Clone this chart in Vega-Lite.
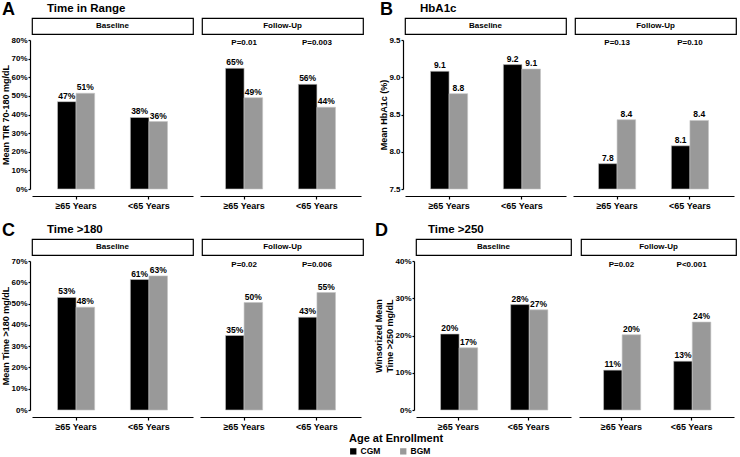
{
"$schema":"https://vega.github.io/schema/vega-lite/v6.json",
"padding":{"left":1,"right":1,"top":0,"bottom":1},
"datasets":{
"bars":[
{"panel":"A","time":"Baseline","age":"≥65 Years","device":"CGM","value":46.9,"label":"47%"},
{"panel":"A","time":"Baseline","age":"≥65 Years","device":"BGM","value":51.4,"label":"51%"},
{"panel":"A","time":"Baseline","age":"<65 Years","device":"CGM","value":38.4,"label":"38%"},
{"panel":"A","time":"Baseline","age":"<65 Years","device":"BGM","value":36.2,"label":"36%"},
{"panel":"A","time":"Follow-Up","age":"≥65 Years","device":"CGM","value":64.8,"label":"65%"},
{"panel":"A","time":"Follow-Up","age":"≥65 Years","device":"BGM","value":49.0,"label":"49%"},
{"panel":"A","time":"Follow-Up","age":"<65 Years","device":"CGM","value":56.2,"label":"56%"},
{"panel":"A","time":"Follow-Up","age":"<65 Years","device":"BGM","value":43.9,"label":"44%"},
{"panel":"B","time":"Baseline","age":"≥65 Years","device":"CGM","value":9.08,"label":"9.1"},
{"panel":"B","time":"Baseline","age":"≥65 Years","device":"BGM","value":8.78,"label":"8.8"},
{"panel":"B","time":"Baseline","age":"<65 Years","device":"CGM","value":9.17,"label":"9.2"},
{"panel":"B","time":"Baseline","age":"<65 Years","device":"BGM","value":9.11,"label":"9.1"},
{"panel":"B","time":"Follow-Up","age":"≥65 Years","device":"CGM","value":7.84,"label":"7.8"},
{"panel":"B","time":"Follow-Up","age":"≥65 Years","device":"BGM","value":8.43,"label":"8.4"},
{"panel":"B","time":"Follow-Up","age":"<65 Years","device":"CGM","value":8.08,"label":"8.1"},
{"panel":"B","time":"Follow-Up","age":"<65 Years","device":"BGM","value":8.42,"label":"8.4"},
{"panel":"C","time":"Baseline","age":"≥65 Years","device":"CGM","value":52.9,"label":"53%"},
{"panel":"C","time":"Baseline","age":"≥65 Years","device":"BGM","value":48.3,"label":"48%"},
{"panel":"C","time":"Baseline","age":"<65 Years","device":"CGM","value":61.3,"label":"61%"},
{"panel":"C","time":"Baseline","age":"<65 Years","device":"BGM","value":63.0,"label":"63%"},
{"panel":"C","time":"Follow-Up","age":"≥65 Years","device":"CGM","value":35.0,"label":"35%"},
{"panel":"C","time":"Follow-Up","age":"≥65 Years","device":"BGM","value":50.5,"label":"50%"},
{"panel":"C","time":"Follow-Up","age":"<65 Years","device":"CGM","value":43.6,"label":"43%"},
{"panel":"C","time":"Follow-Up","age":"<65 Years","device":"BGM","value":55.2,"label":"55%"},
{"panel":"D","time":"Baseline","age":"≥65 Years","device":"CGM","value":20.4,"label":"20%"},
{"panel":"D","time":"Baseline","age":"≥65 Years","device":"BGM","value":16.7,"label":"17%"},
{"panel":"D","time":"Baseline","age":"<65 Years","device":"CGM","value":28.3,"label":"28%"},
{"panel":"D","time":"Baseline","age":"<65 Years","device":"BGM","value":26.9,"label":"27%"},
{"panel":"D","time":"Follow-Up","age":"≥65 Years","device":"CGM","value":10.7,"label":"11%"},
{"panel":"D","time":"Follow-Up","age":"≥65 Years","device":"BGM","value":20.2,"label":"20%"},
{"panel":"D","time":"Follow-Up","age":"<65 Years","device":"CGM","value":13.1,"label":"13%"},
{"panel":"D","time":"Follow-Up","age":"<65 Years","device":"BGM","value":23.6,"label":"24%"}
],
"pvals":[
{"panel":"A","age":"≥65 Years","y":78.5,"p":"P=0.01"},
{"panel":"A","age":"<65 Years","y":78.5,"p":"P=0.003"},
{"panel":"B","age":"≥65 Years","y":9.46,"p":"P=0.13"},
{"panel":"B","age":"<65 Years","y":9.46,"p":"P=0.10"},
{"panel":"C","age":"≥65 Years","y":68.1,"p":"P=0.02"},
{"panel":"C","age":"<65 Years","y":68.1,"p":"P=0.006"},
{"panel":"D","age":"≥65 Years","y":39.0,"p":"P=0.02"},
{"panel":"D","age":"<65 Years","y":39.0,"p":"P<0.001"}
]
},
"spacing":10,
"vconcat":[
{"spacing":15,"hconcat":[
 {"title":{"text":"A","anchor":"start","fontSize":18,"offset":0,"dy":17},"spacing":1,"vconcat":[
  {"spacing":7,"hconcat":[
   {"width":161,"height":16,"view":{"stroke":"black","strokeWidth":1.2,"fill":"white"},
    "title":{"text":"Time in Range","anchor":"start","dx":15,"fontSize":11.5,"offset":4},
    "data":{"values":[{"s":"Baseline"}]},"mark":{"type":"text","fontSize":8,"fontWeight":"bold","color":"black"},
    "encoding":{"x":{"field":"s","type":"nominal","axis":null},"y":{"field":"s","type":"nominal","axis":null},"text":{"field":"s"}}},
   {"width":161,"height":16,"view":{"stroke":"black","strokeWidth":1.2,"fill":"white"},
    "data":{"values":[{"s":"Follow-Up"}]},"mark":{"type":"text","fontSize":8,"fontWeight":"bold","color":"black"},
    "encoding":{"x":{"field":"s","type":"nominal","axis":null},"y":{"field":"s","type":"nominal","axis":null},"text":{"field":"s"}}}
  ]},
  {"spacing":7,"hconcat":[
   {"width":161,"height":149,"data":{"name":"bars"},"transform":[{"filter":"datum.panel==='A' && datum.time==='Baseline'"}],
    "encoding":{
     "x":{"field":"age","type":"nominal","sort":["≥65 Years","<65 Years"],"scale":{"paddingInner":0.49,"paddingOuter":0.35},"axis":{"title":null,"labelAngle":0,"offset":7,"tickSize":3,"labelPadding":2.5,"labelFontSize":9}},
     "xOffset":{"field":"device","type":"nominal","sort":["CGM","BGM"]},
     "y":{"field":"value","type":"quantitative","scale":{"domain":[0,80],"nice":false,"zero":false},"axis":{"title":"Mean TIR 70-180 mg/dL","values":[0,10,20,30,40,50,60,70,80],"labelExpr":"datum.value + '%'","offset":2,"tickSize":2,"labelPadding":1,"labelFontSize":8,"titleFontSize":9,"titlePadding":0}}
    },
    "layer":[
     {"mark":{"type":"bar","stroke":"#c4c4c4","strokeWidth":0.6},"encoding":{"color":{"field":"device","type":"nominal","scale":{"domain":["CGM","BGM"],"range":["#000000","#999999"]},"legend":{"title":"Age at Enrollment","orient":"none","legendX":317,"legendY":415,"direction":"horizontal"}}}},
     {"mark":{"type":"text","baseline":"bottom","dy":-1,"fontSize":8.5,"fontWeight":"bold","color":"black"},"encoding":{"text":{"field":"label"}}}
    ]},
   {"width":161,"height":149,
    "layer":[
     {"data":{"name":"bars"},"transform":[{"filter":"datum.panel==='A' && datum.time==='Follow-Up'"}],
      "mark":{"type":"bar","stroke":"#c4c4c4","strokeWidth":0.6},
      "encoding":{
       "x":{"field":"age","type":"nominal","sort":["≥65 Years","<65 Years"],"scale":{"paddingInner":0.49,"paddingOuter":0.35},"axis":{"title":null,"labelAngle":0,"offset":7,"tickSize":3,"labelPadding":2.5,"labelFontSize":9}},
       "xOffset":{"field":"device","type":"nominal","sort":["CGM","BGM"]},
       "y":{"field":"value","type":"quantitative","scale":{"domain":[0,80],"nice":false,"zero":false},"axis":null},
       "color":{"field":"device","type":"nominal","scale":{"domain":["CGM","BGM"],"range":["#000000","#999999"]},"legend":{"title":"Age at Enrollment","orient":"none","legendX":317,"legendY":415,"direction":"horizontal"}}}},
     {"data":{"name":"bars"},"transform":[{"filter":"datum.panel==='A' && datum.time==='Follow-Up'"}],
      "mark":{"type":"text","baseline":"bottom","dy":-1,"fontSize":8.5,"fontWeight":"bold","color":"black"},
      "encoding":{"x":{"field":"age","type":"nominal","sort":["≥65 Years","<65 Years"]},"xOffset":{"field":"device","type":"nominal","sort":["CGM","BGM"]},"y":{"field":"value","type":"quantitative"},"text":{"field":"label"}}},
     {"data":{"name":"pvals"},"transform":[{"filter":"datum.panel==='A'"}],
      "mark":{"type":"text","baseline":"middle","fontSize":8,"fontWeight":"bold","color":"black"},
      "encoding":{"x":{"field":"age","type":"nominal","sort":["≥65 Years","<65 Years"]},"y":{"field":"y","type":"quantitative"},"text":{"field":"p"}}}
    ]}
  ]}
 ]},
 {"title":{"text":"B","anchor":"start","fontSize":18,"offset":0,"dy":17},"spacing":1,"vconcat":[
  {"spacing":7,"hconcat":[
   {"width":161,"height":16,"view":{"stroke":"black","strokeWidth":1.2,"fill":"white"},
    "title":{"text":"HbA1c","anchor":"start","dx":15,"fontSize":11.5,"offset":4},
    "data":{"values":[{"s":"Baseline"}]},"mark":{"type":"text","fontSize":8,"fontWeight":"bold","color":"black"},
    "encoding":{"x":{"field":"s","type":"nominal","axis":null},"y":{"field":"s","type":"nominal","axis":null},"text":{"field":"s"}}},
   {"width":161,"height":16,"view":{"stroke":"black","strokeWidth":1.2,"fill":"white"},
    "data":{"values":[{"s":"Follow-Up"}]},"mark":{"type":"text","fontSize":8,"fontWeight":"bold","color":"black"},
    "encoding":{"x":{"field":"s","type":"nominal","axis":null},"y":{"field":"s","type":"nominal","axis":null},"text":{"field":"s"}}}
  ]},
  {"spacing":7,"hconcat":[
   {"width":161,"height":149,"data":{"name":"bars"},"transform":[{"filter":"datum.panel==='B' && datum.time==='Baseline'"}],
    "encoding":{
     "x":{"field":"age","type":"nominal","sort":["≥65 Years","<65 Years"],"scale":{"paddingInner":0.49,"paddingOuter":0.35},"axis":{"title":null,"labelAngle":0,"offset":7,"tickSize":3,"labelPadding":2.5,"labelFontSize":9}},
     "xOffset":{"field":"device","type":"nominal","sort":["CGM","BGM"]},
     "y":{"field":"value","type":"quantitative","scale":{"domain":[7.5,9.5],"nice":false,"zero":false},"axis":{"title":"Mean HbA1c (%)","values":[7.5,8,8.5,9,9.5],"format":".1f","offset":2,"tickSize":2,"labelPadding":1,"labelFontSize":8,"titleFontSize":9,"titlePadding":0}}
    },
    "layer":[
     {"mark":{"type":"bar","stroke":"#c4c4c4","strokeWidth":0.6},"encoding":{"y2":{"datum":7.5},"color":{"field":"device","type":"nominal","scale":{"domain":["CGM","BGM"],"range":["#000000","#999999"]},"legend":{"title":"Age at Enrollment","orient":"none","legendX":317,"legendY":415,"direction":"horizontal"}}}},
     {"mark":{"type":"text","baseline":"bottom","dy":-1,"fontSize":8.5,"fontWeight":"bold","color":"black"},"encoding":{"text":{"field":"label"}}}
    ]},
   {"width":161,"height":149,
    "layer":[
     {"data":{"name":"bars"},"transform":[{"filter":"datum.panel==='B' && datum.time==='Follow-Up'"}],
      "mark":{"type":"bar","stroke":"#c4c4c4","strokeWidth":0.6},
      "encoding":{
       "x":{"field":"age","type":"nominal","sort":["≥65 Years","<65 Years"],"scale":{"paddingInner":0.49,"paddingOuter":0.35},"axis":{"title":null,"labelAngle":0,"offset":7,"tickSize":3,"labelPadding":2.5,"labelFontSize":9}},
       "xOffset":{"field":"device","type":"nominal","sort":["CGM","BGM"]},
       "y":{"field":"value","type":"quantitative","scale":{"domain":[7.5,9.5],"nice":false,"zero":false},"axis":null},
       "y2":{"datum":7.5},
       "color":{"field":"device","type":"nominal","scale":{"domain":["CGM","BGM"],"range":["#000000","#999999"]},"legend":{"title":"Age at Enrollment","orient":"none","legendX":317,"legendY":415,"direction":"horizontal"}}}},
     {"data":{"name":"bars"},"transform":[{"filter":"datum.panel==='B' && datum.time==='Follow-Up'"}],
      "mark":{"type":"text","baseline":"bottom","dy":-1,"fontSize":8.5,"fontWeight":"bold","color":"black"},
      "encoding":{"x":{"field":"age","type":"nominal","sort":["≥65 Years","<65 Years"]},"xOffset":{"field":"device","type":"nominal","sort":["CGM","BGM"]},"y":{"field":"value","type":"quantitative"},"text":{"field":"label"}}},
     {"data":{"name":"pvals"},"transform":[{"filter":"datum.panel==='B'"}],
      "mark":{"type":"text","baseline":"middle","fontSize":8,"fontWeight":"bold","color":"black"},
      "encoding":{"x":{"field":"age","type":"nominal","sort":["≥65 Years","<65 Years"]},"y":{"field":"y","type":"quantitative"},"text":{"field":"p"}}}
    ]}
  ]}
 ]}
]},
{"spacing":10,"hconcat":[
 {"title":{"text":"C","anchor":"start","fontSize":18,"offset":0,"dy":17},"spacing":1,"vconcat":[
  {"spacing":7,"hconcat":[
   {"width":161,"height":16,"view":{"stroke":"black","strokeWidth":1.2,"fill":"white"},
    "title":{"text":"Time >180","anchor":"start","dx":15,"fontSize":11.5,"offset":4},
    "data":{"values":[{"s":"Baseline"}]},"mark":{"type":"text","fontSize":8,"fontWeight":"bold","color":"black"},
    "encoding":{"x":{"field":"s","type":"nominal","axis":null},"y":{"field":"s","type":"nominal","axis":null},"text":{"field":"s"}}},
   {"width":161,"height":16,"view":{"stroke":"black","strokeWidth":1.2,"fill":"white"},
    "data":{"values":[{"s":"Follow-Up"}]},"mark":{"type":"text","fontSize":8,"fontWeight":"bold","color":"black"},
    "encoding":{"x":{"field":"s","type":"nominal","axis":null},"y":{"field":"s","type":"nominal","axis":null},"text":{"field":"s"}}}
  ]},
  {"spacing":7,"hconcat":[
   {"width":161,"height":149,"data":{"name":"bars"},"transform":[{"filter":"datum.panel==='C' && datum.time==='Baseline'"}],
    "encoding":{
     "x":{"field":"age","type":"nominal","sort":["≥65 Years","<65 Years"],"scale":{"paddingInner":0.49,"paddingOuter":0.35},"axis":{"title":null,"labelAngle":0,"offset":7,"tickSize":3,"labelPadding":2.5,"labelFontSize":9}},
     "xOffset":{"field":"device","type":"nominal","sort":["CGM","BGM"]},
     "y":{"field":"value","type":"quantitative","scale":{"domain":[0,70],"nice":false,"zero":false},"axis":{"title":"Mean Time >180 mg/dL","values":[0,10,20,30,40,50,60,70],"labelExpr":"datum.value + '%'","offset":2,"tickSize":2,"labelPadding":1,"labelFontSize":8,"titleFontSize":9,"titlePadding":0}}
    },
    "layer":[
     {"mark":{"type":"bar","stroke":"#c4c4c4","strokeWidth":0.6},"encoding":{"color":{"field":"device","type":"nominal","scale":{"domain":["CGM","BGM"],"range":["#000000","#999999"]},"legend":{"title":"Age at Enrollment","orient":"none","legendX":317,"legendY":415,"direction":"horizontal"}}}},
     {"mark":{"type":"text","baseline":"bottom","dy":-1,"fontSize":8.5,"fontWeight":"bold","color":"black"},"encoding":{"text":{"field":"label"}}}
    ]},
   {"width":161,"height":149,
    "layer":[
     {"data":{"name":"bars"},"transform":[{"filter":"datum.panel==='C' && datum.time==='Follow-Up'"}],
      "mark":{"type":"bar","stroke":"#c4c4c4","strokeWidth":0.6},
      "encoding":{
       "x":{"field":"age","type":"nominal","sort":["≥65 Years","<65 Years"],"scale":{"paddingInner":0.49,"paddingOuter":0.35},"axis":{"title":null,"labelAngle":0,"offset":7,"tickSize":3,"labelPadding":2.5,"labelFontSize":9}},
       "xOffset":{"field":"device","type":"nominal","sort":["CGM","BGM"]},
       "y":{"field":"value","type":"quantitative","scale":{"domain":[0,70],"nice":false,"zero":false},"axis":null},
       "color":{"field":"device","type":"nominal","scale":{"domain":["CGM","BGM"],"range":["#000000","#999999"]},"legend":{"title":"Age at Enrollment","orient":"none","legendX":317,"legendY":415,"direction":"horizontal"}}}},
     {"data":{"name":"bars"},"transform":[{"filter":"datum.panel==='C' && datum.time==='Follow-Up'"}],
      "mark":{"type":"text","baseline":"bottom","dy":-1,"fontSize":8.5,"fontWeight":"bold","color":"black"},
      "encoding":{"x":{"field":"age","type":"nominal","sort":["≥65 Years","<65 Years"]},"xOffset":{"field":"device","type":"nominal","sort":["CGM","BGM"]},"y":{"field":"value","type":"quantitative"},"text":{"field":"label"}}},
     {"data":{"name":"pvals"},"transform":[{"filter":"datum.panel==='C'"}],
      "mark":{"type":"text","baseline":"middle","fontSize":8,"fontWeight":"bold","color":"black"},
      "encoding":{"x":{"field":"age","type":"nominal","sort":["≥65 Years","<65 Years"]},"y":{"field":"y","type":"quantitative"},"text":{"field":"p"}}}
    ]}
  ]}
 ]},
 {"title":{"text":"D","anchor":"start","fontSize":18,"offset":0,"dy":17},"spacing":1,"vconcat":[
  {"spacing":8,"hconcat":[
   {"width":155,"height":16,"view":{"stroke":"black","strokeWidth":1.2,"fill":"white"},
    "title":{"text":"Time >250","anchor":"start","dx":12,"fontSize":11.5,"offset":4},
    "data":{"values":[{"s":"Baseline"}]},"mark":{"type":"text","fontSize":8,"fontWeight":"bold","color":"black"},
    "encoding":{"x":{"field":"s","type":"nominal","axis":null},"y":{"field":"s","type":"nominal","axis":null},"text":{"field":"s"}}},
   {"width":155,"height":16,"view":{"stroke":"black","strokeWidth":1.2,"fill":"white"},
    "data":{"values":[{"s":"Follow-Up"}]},"mark":{"type":"text","fontSize":8,"fontWeight":"bold","color":"black"},
    "encoding":{"x":{"field":"s","type":"nominal","axis":null},"y":{"field":"s","type":"nominal","axis":null},"text":{"field":"s"}}}
  ]},
  {"spacing":8,"hconcat":[
   {"width":155,"height":149,"data":{"name":"bars"},"transform":[{"filter":"datum.panel==='D' && datum.time==='Baseline'"}],
    "encoding":{
     "x":{"field":"age","type":"nominal","sort":["≥65 Years","<65 Years"],"scale":{"paddingInner":0.49,"paddingOuter":0.35},"axis":{"title":null,"labelAngle":0,"offset":7,"tickSize":3,"labelPadding":2.5,"labelFontSize":9}},
     "xOffset":{"field":"device","type":"nominal","sort":["CGM","BGM"]},
     "y":{"field":"value","type":"quantitative","scale":{"domain":[0,40],"nice":false,"zero":false},"axis":{"title":["Winsorized Mean","Time >250 mg/dL"],"values":[0,10,20,30,40],"labelExpr":"datum.value + '%'","offset":2,"tickSize":2,"labelPadding":1,"labelFontSize":8,"titleFontSize":9,"titlePadding":0}}
    },
    "layer":[
     {"mark":{"type":"bar","stroke":"#c4c4c4","strokeWidth":0.6},"encoding":{"color":{"field":"device","type":"nominal","scale":{"domain":["CGM","BGM"],"range":["#000000","#999999"]},"legend":{"title":"Age at Enrollment","orient":"none","legendX":317,"legendY":415,"direction":"horizontal"}}}},
     {"mark":{"type":"text","baseline":"bottom","dy":-1,"fontSize":8.5,"fontWeight":"bold","color":"black"},"encoding":{"text":{"field":"label"}}}
    ]},
   {"width":155,"height":149,
    "layer":[
     {"data":{"name":"bars"},"transform":[{"filter":"datum.panel==='D' && datum.time==='Follow-Up'"}],
      "mark":{"type":"bar","stroke":"#c4c4c4","strokeWidth":0.6},
      "encoding":{
       "x":{"field":"age","type":"nominal","sort":["≥65 Years","<65 Years"],"scale":{"paddingInner":0.49,"paddingOuter":0.35},"axis":{"title":null,"labelAngle":0,"offset":7,"tickSize":3,"labelPadding":2.5,"labelFontSize":9}},
       "xOffset":{"field":"device","type":"nominal","sort":["CGM","BGM"]},
       "y":{"field":"value","type":"quantitative","scale":{"domain":[0,40],"nice":false,"zero":false},"axis":null},
       "color":{"field":"device","type":"nominal","scale":{"domain":["CGM","BGM"],"range":["#000000","#999999"]},"legend":{"title":"Age at Enrollment","orient":"none","legendX":317,"legendY":415,"direction":"horizontal"}}}},
     {"data":{"name":"bars"},"transform":[{"filter":"datum.panel==='D' && datum.time==='Follow-Up'"}],
      "mark":{"type":"text","baseline":"bottom","dy":-1,"fontSize":8.5,"fontWeight":"bold","color":"black"},
      "encoding":{"x":{"field":"age","type":"nominal","sort":["≥65 Years","<65 Years"]},"xOffset":{"field":"device","type":"nominal","sort":["CGM","BGM"]},"y":{"field":"value","type":"quantitative"},"text":{"field":"label"}}},
     {"data":{"name":"pvals"},"transform":[{"filter":"datum.panel==='D'"}],
      "mark":{"type":"text","baseline":"middle","fontSize":8,"fontWeight":"bold","color":"black"},
      "encoding":{"x":{"field":"age","type":"nominal","sort":["≥65 Years","<65 Years"]},"y":{"field":"y","type":"quantitative"},"text":{"field":"p"}}}
    ]}
  ]}
 ]}
]}
],
"config":{
 "view":{"stroke":null},
 "font":"Liberation Sans",
 "axis":{"grid":false,"domainColor":"black","domainWidth":1.2,"tickColor":"black","tickWidth":1.2,"labelColor":"black","labelFontWeight":"bold","titleColor":"black","titleFontWeight":"bold"},
 "title":{"fontWeight":"bold","color":"black"},
 "legend":{"titleFontSize":11,"titleFontWeight":"bold","titleColor":"black","titlePadding":3,"labelFontSize":8.5,"labelFontWeight":"bold","labelColor":"black","symbolType":"square","symbolSize":40,"symbolStrokeWidth":0,"columnPadding":18,"labelOffset":3}
}
}
